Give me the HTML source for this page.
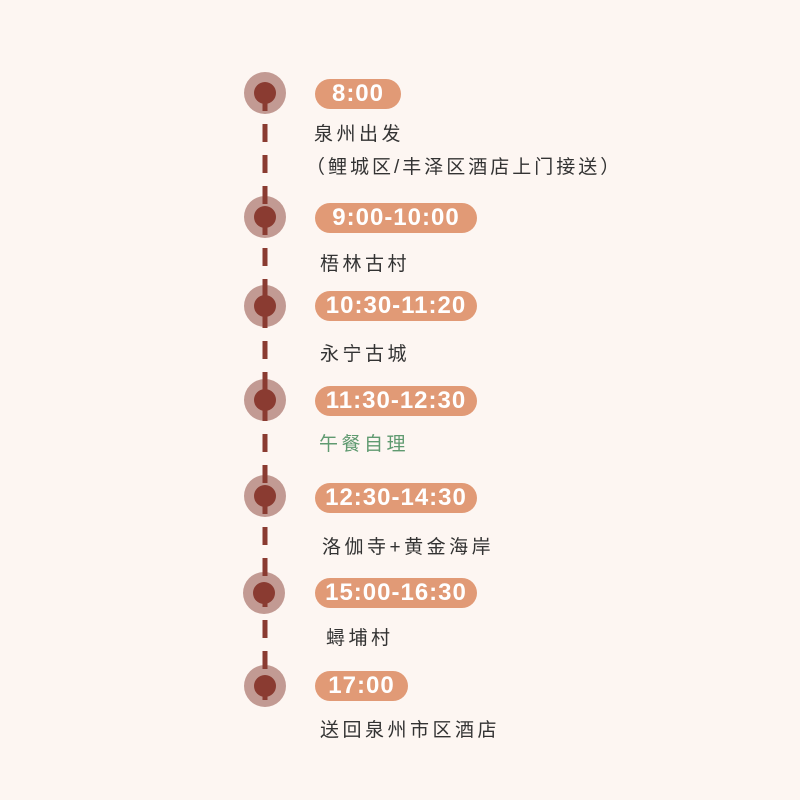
<!DOCTYPE html>
<html><head><meta charset="utf-8"><style>
body{margin:0;width:800px;height:800px;background:#fdf6f2;position:relative;overflow:hidden;font-family:"Liberation Sans","Noto Sans CJK SC",sans-serif}
.pill{position:absolute;left:315px;height:30px;border-radius:15px;background:#e19a76;color:#fff;font-size:24px;line-height:30px;text-align:center;letter-spacing:1px;font-weight:bold}
.t{position:absolute;left:314px;font-size:19px;color:#333;letter-spacing:3.5px;white-space:nowrap}
</style></head><body>
<svg width="800" height="800" style="position:absolute;left:0;top:0">
<g fill="#c29a93">
<circle cx="265" cy="93" r="21"/><circle cx="265" cy="217" r="21"/><circle cx="265" cy="306" r="21"/><circle cx="265" cy="400" r="21"/><circle cx="265" cy="496" r="21"/><circle cx="264" cy="593" r="21"/><circle cx="265" cy="686" r="21"/>
</g>
<line x1="265" y1="93" x2="265" y2="700" stroke="#8a3b31" stroke-width="5" stroke-dasharray="18 13"/>
<g fill="#8a3b31">
<circle cx="265" cy="93" r="11"/><circle cx="265" cy="217" r="11"/><circle cx="265" cy="306" r="11"/><circle cx="265" cy="400" r="11"/><circle cx="265" cy="496" r="11"/><circle cx="264" cy="593" r="11"/><circle cx="265" cy="686" r="11"/>
</g>
</svg>
<div class="pill" style="top:79px;width:86px">8:00</div>
<div class="t" style="top:119px">泉州出发</div>
<div class="t" style="top:152px;left:306px;letter-spacing:3px">（鲤城区/丰泽区酒店上门接送）</div>
<div class="pill" style="top:203px;width:162px">9:00-10:00</div>
<div class="t" style="top:249px;left:320px">梧林古村</div>
<div class="pill" style="top:291px;width:162px">10:30-11:20</div>
<div class="t" style="top:339px;left:320px">永宁古城</div>
<div class="pill" style="top:386px;width:162px">11:30-12:30</div>
<div class="t" style="top:429px;left:319px;color:#5f9a70">午餐自理</div>
<div class="pill" style="top:483px;width:162px">12:30-14:30</div>
<div class="t" style="top:532px;left:322px">洛伽寺+黄金海岸</div>
<div class="pill" style="top:578px;width:162px">15:00-16:30</div>
<div class="t" style="top:623px;left:326px">蟳埔村</div>
<div class="pill" style="top:671px;width:93px">17:00</div>
<div class="t" style="top:715px;left:320px">送回泉州市区酒店</div>
</body></html>
